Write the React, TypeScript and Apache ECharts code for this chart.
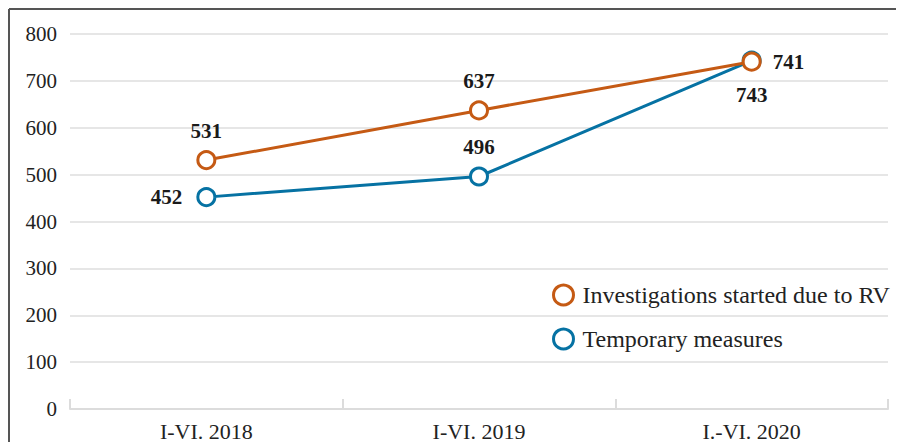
import React, { useEffect, useRef } from "react";
import * as echarts from "echarts";

const categories = ["I-VI. 2018", "I-VI. 2019", "I.-VI. 2020"];
const investigations = [531, 637, 741];
const temporary = [452, 496, 743];
const seriesNames = ["Investigations started due to RV", "Temporary measures"];
const yTicks = { min: 0, max: 800, interval: 100 };

const ORANGE = "#c55a14";
const BLUE = "#0672a3";
const FONT = "Liberation Serif";

export default function App() {
  const ref = useRef<HTMLDivElement>(null);
  useEffect(() => {
    if (!ref.current) return;
    const chart = echarts.init(ref.current, null, { renderer: "svg" });
    const labelBase = {
      show: true,
      fontFamily: FONT,
      fontSize: 21,
      fontWeight: "bold",
      color: "#1a1a1a",
    };
    chart.setOption({
      animation: false,
      textStyle: { fontFamily: FONT },
      graphic: [
        { type: "line", shape: { x1: 1, y1: 1, x2: 896, y2: 1 }, style: { stroke: "#555", lineWidth: 2 } },
        { type: "line", shape: { x1: 1, y1: 1, x2: 1, y2: 434 }, style: { stroke: "#555", lineWidth: 2 } },
      ],
      grid: { left: 62, right: 16, top: 26, bottom: 32 },
      legend: {
        orient: "vertical",
        left: 539,
        top: 270,
        itemWidth: 20,
        itemHeight: 20,
        itemGap: 20,
        textStyle: { fontFamily: FONT, fontSize: 24, color: "#222", padding: [0, 0, 0, 4] },
        data: [
          { name: seriesNames[0], icon: "circle", itemStyle: { color: "#fff", borderColor: ORANGE, borderWidth: 3 } },
          { name: seriesNames[1], icon: "circle", itemStyle: { color: "#fff", borderColor: BLUE, borderWidth: 3 } },
        ],
      },
      xAxis: {
        type: "category",
        data: categories,
        boundaryGap: true,
        axisLine: { lineStyle: { color: "#dcdcdc", width: 2 } },
        axisTick: { show: true, inside: true, length: 10, lineStyle: { color: "#dcdcdc", width: 2 } },
        axisLabel: { fontFamily: FONT, fontSize: 22, color: "#222", margin: 11 },
      },
      yAxis: {
        type: "value",
        min: yTicks.min,
        max: yTicks.max,
        interval: yTicks.interval,
        axisLine: { show: false },
        axisTick: { show: false },
        axisLabel: { fontFamily: FONT, fontSize: 21, color: "#222", margin: 13 },
        splitLine: { lineStyle: { color: "#e6e6e6", width: 2 } },
      },
      series: [
        {
          name: seriesNames[1],
          type: "line",
          z: 2,
          data: temporary.map((v, i) => ({
            value: v,
            label:
              i === 0
                ? { ...labelBase, position: "left", distance: 14 }
                : i === 1
                ? { ...labelBase, position: "top", distance: 9 }
                : { ...labelBase, position: "bottom", distance: 14 },
          })),
          symbol: "circle",
          symbolSize: 17,
          itemStyle: { color: "#fff", borderColor: BLUE, borderWidth: 3 },
          lineStyle: { color: BLUE, width: 3 },
        },
        {
          name: seriesNames[0],
          type: "line",
          z: 3,
          data: investigations.map((v, i) => ({
            value: v,
            label:
              i === 2
                ? { ...labelBase, position: "right", distance: 11 }
                : { ...labelBase, position: "top", distance: 9 },
          })),
          symbol: "circle",
          symbolSize: 17,
          itemStyle: { color: "#fff", borderColor: ORANGE, borderWidth: 3 },
          lineStyle: { color: ORANGE, width: 3 },
        },
      ],
    });
    return () => chart.dispose();
  }, []);
  return <div ref={ref} style={{ width: 896, height: 434 }} />;
}
